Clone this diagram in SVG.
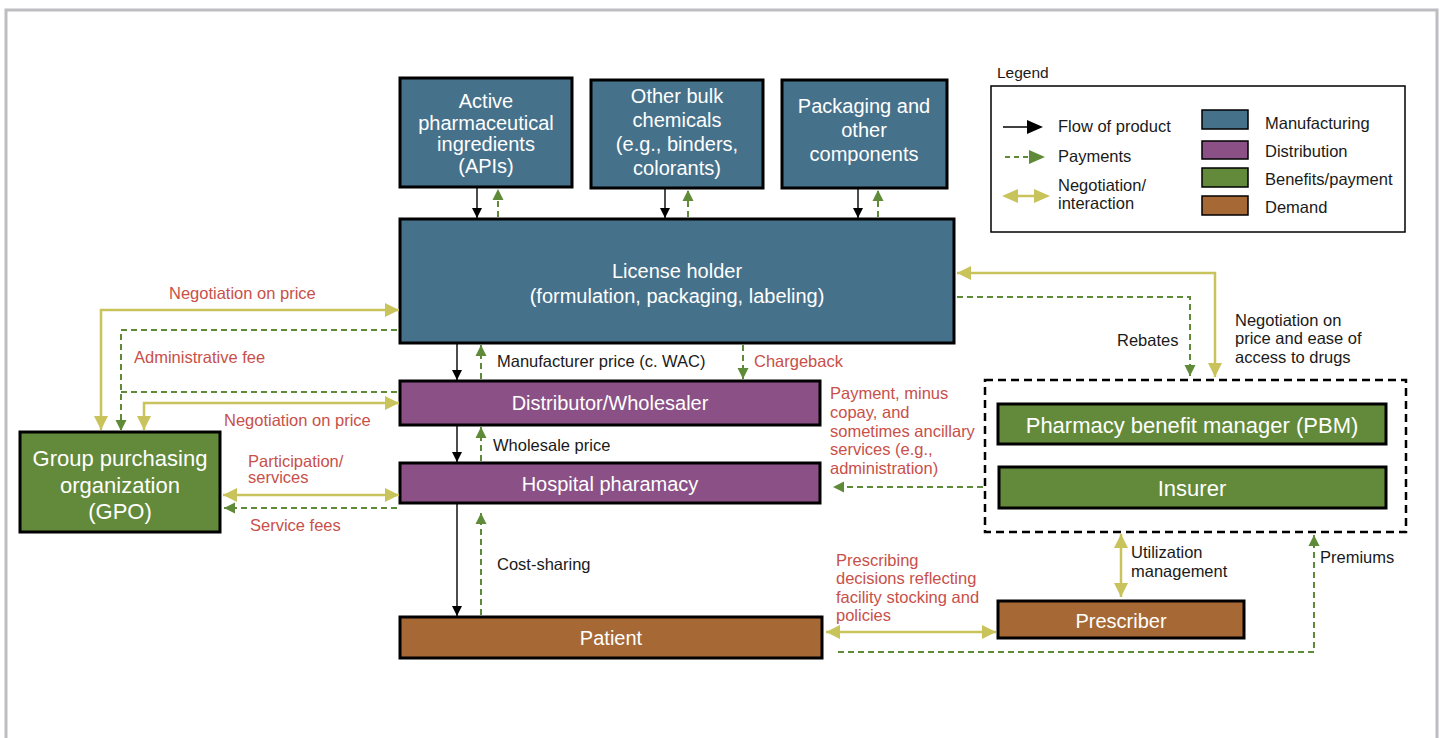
<svg xmlns="http://www.w3.org/2000/svg" width="1443" height="738" viewBox="0 0 1443 738">
<style>
text{font-family:"Liberation Sans",Arial,sans-serif}
.n{stroke:#000;stroke-width:3}
.mf{fill:#46718b}.ds{fill:#8b5186}.bp{fill:#628a3a}.dm{fill:#a66935}
.nt{fill:#fff;font-size:20px;text-anchor:middle}
.nl{fill:#fff;font-size:22px;text-anchor:middle}
.lb{font-size:16.5px;fill:#1a1a1a}
.rd{font-size:16.5px;fill:#c8504a}
.fp{stroke:#000;stroke-width:1.4;fill:none;marker-end:url(#ab)}
.pay{stroke:#5f8a38;stroke-width:2;stroke-dasharray:6 4;fill:none}
.pe{marker-end:url(#ag)}
.neg{stroke:#c9c35b;stroke-width:2.5;fill:none}
.n1{marker-end:url(#ao)}
.n2{marker-start:url(#ao);marker-end:url(#ao)}
</style>
<defs>
<marker id="ab" markerUnits="userSpaceOnUse" markerWidth="10" markerHeight="10" refX="10" refY="5" orient="auto"><path d="M0,0 L10,5 L0,10 z" fill="#000"/></marker>
<marker id="ag" markerUnits="userSpaceOnUse" markerWidth="11" markerHeight="12" refX="11" refY="6" orient="auto"><path d="M0,0.5 L11,6 L0,11.5 z" fill="#5f8a38"/></marker>
<marker id="ao" markerUnits="userSpaceOnUse" markerWidth="14" markerHeight="14" refX="14" refY="7" orient="auto-start-reverse"><path d="M0,0 L14,7 L0,14 z" fill="#c9c35b"/></marker>
</defs>
<rect x="6" y="10" width="1431" height="760" fill="#fff" stroke="#bdbdc1" stroke-width="3"/>

<g id="legend">
<text x="997" y="78" class="lb" style="font-size:15.5px">Legend</text>
<rect x="991" y="86" width="414" height="146" fill="#fff" stroke="#000" stroke-width="1.5"/>
<line x1="1003" y1="127" x2="1028" y2="127" stroke="#000" stroke-width="1.5"/>
<path d="M1027,120 L1043,127 L1027,134 z" fill="#000"/>
<text x="1058" y="132" class="lb">Flow of product</text>
<line x1="1005" y1="157" x2="1030" y2="157" stroke="#5f8a38" stroke-width="2" stroke-dasharray="5 4"/>
<path d="M1029,150 L1045,157 L1029,164 z" fill="#5f8a38"/>
<text x="1058" y="162" class="lb">Payments</text>
<line x1="1015" y1="196" x2="1038" y2="196" stroke="#c9c35b" stroke-width="2.5"/>
<path d="M1002,196 L1018,189 L1018,203 z M1050,196 L1034,189 L1034,203 z" fill="#c9c35b"/>
<text x="1058" y="191" class="lb">Negotiation/</text>
<text x="1058" y="209" class="lb">interaction</text>
<rect x="1202" y="110" width="46" height="19" class="mf" stroke="#000" stroke-width="1.5"/>
<rect x="1202" y="141" width="46" height="18" class="ds" stroke="#000" stroke-width="1.5"/>
<rect x="1202" y="168" width="46" height="19" class="bp" stroke="#000" stroke-width="1.5"/>
<rect x="1202" y="196" width="46" height="19" class="dm" stroke="#000" stroke-width="1.5"/>
<text x="1265" y="129" class="lb">Manufacturing</text>
<text x="1265" y="157" class="lb">Distribution</text>
<text x="1265" y="185" class="lb">Benefits/payment</text>
<text x="1265" y="213" class="lb">Demand</text>
</g>

<g id="api">
<rect x="400" y="78" width="172" height="109" class="n mf"/>
<text class="nt"><tspan x="486" y="108">Active</tspan><tspan x="486" y="130">pharmaceutical</tspan><tspan x="486" y="151">ingredients</tspan><tspan x="486" y="173">(APIs)</tspan></text>
</g>
<g id="bulk">
<rect x="591" y="80" width="172" height="108" class="n mf"/>
<text class="nt"><tspan x="677" y="103">Other bulk</tspan><tspan x="677" y="127">chemicals</tspan><tspan x="677" y="151">(e.g., binders,</tspan><tspan x="677" y="175">colorants)</tspan></text>
</g>
<g id="packaging">
<rect x="782" y="80" width="165" height="108" class="n mf"/>
<text class="nt"><tspan x="864" y="113">Packaging and</tspan><tspan x="864" y="137">other</tspan><tspan x="864" y="161">components</tspan></text>
</g>
<g id="license">
<rect x="400" y="219" width="554" height="124" class="n mf"/>
<text class="nt"><tspan x="677" y="278">License holder</tspan><tspan x="677" y="303">(formulation, packaging, labeling)</tspan></text>
</g>
<g id="distributor">
<rect x="400" y="381" width="420" height="44" class="n ds"/>
<text x="610" y="410" class="nt">Distributor/Wholesaler</text>
</g>
<g id="hospital">
<rect x="400" y="463" width="420" height="40" class="n ds"/>
<text x="610" y="491" class="nt">Hospital pharamacy</text>
</g>
<g id="patient">
<rect x="400" y="617" width="422" height="41" class="n dm"/>
<text x="611" y="645" class="nt">Patient</text>
</g>
<g id="gpo">
<rect x="20" y="432" width="200" height="100" class="n bp"/>
<text class="nl"><tspan x="120" y="466">Group purchasing</tspan><tspan x="120" y="493">organization</tspan><tspan x="120" y="519">(GPO)</tspan></text>
</g>
<g id="payers">
<rect x="985" y="380" width="421" height="152" fill="none" stroke="#000" stroke-width="2.5" stroke-dasharray="8 5"/>
</g>
<g id="pbm">
<rect x="998" y="404" width="388" height="40" class="n bp"/>
<text x="1192" y="433" class="nl">Pharmacy benefit manager (PBM)</text>
</g>
<g id="insurer">
<rect x="999" y="467" width="387" height="41" class="n bp"/>
<text x="1192" y="496" class="nl">Insurer</text>
</g>
<g id="prescriber">
<rect x="998" y="601" width="246" height="37" class="n dm"/>
<text x="1121" y="628" class="nt">Prescriber</text>
</g>

<g id="connectors">
<line x1="477" y1="188" x2="477" y2="218" class="fp"/>
<line x1="498" y1="217" x2="498" y2="189" class="pay pe"/>
<line x1="665" y1="189" x2="665" y2="218" class="fp"/>
<line x1="688" y1="217" x2="688" y2="190" class="pay pe"/>
<line x1="858" y1="189" x2="858" y2="218" class="fp"/>
<line x1="878" y1="217" x2="878" y2="190" class="pay pe"/>

<line x1="457" y1="344" x2="457" y2="380" class="fp"/>
<line x1="481" y1="379" x2="481" y2="345" class="pay pe"/>
<line x1="743" y1="345" x2="743" y2="379" class="pay pe"/>
<line x1="457" y1="426" x2="457" y2="462" class="fp"/>
<line x1="481" y1="461" x2="481" y2="427" class="pay pe"/>
<line x1="457" y1="504" x2="457" y2="616" class="fp"/>
<line x1="481" y1="615" x2="481" y2="513" class="pay pe"/>

<path d="M101,430 L101,310 L399,310" class="neg n2"/>
<path d="M397,330 L121,330 L121,431" class="pay pe"/>
<path d="M397,392 L121,392" class="pay"/>
<path d="M144,430 L144,403 L399,403" class="neg n2"/>
<path d="M223,495 L399,495" class="neg n2"/>
<path d="M397,508 L224,508" class="pay pe"/>

<path d="M1215,377 L1215,273 L957,273" class="neg n2"/>
<path d="M957,297 L1190,297 L1190,376" class="pay pe"/>
<path d="M983,487 L833,487" class="pay pe"/>
<path d="M1121,534 L1121,597" class="neg n2"/>
<path d="M838,652 L1314,652 L1314,535" class="pay pe"/>
<path d="M826,632 L996,632" class="neg n2"/>
</g>

<g id="labels">
<text x="169" y="299" class="rd">Negotiation on price</text>
<text x="134" y="363" class="rd">Administrative fee</text>
<text x="224" y="426" class="rd">Negotiation on price</text>
<text class="rd"><tspan x="248" y="467">Participation/</tspan><tspan x="248" y="483">services</tspan></text>
<text x="250" y="531" class="rd">Service fees</text>
<text x="497" y="367" class="lb">Manufacturer price (c. WAC)</text>
<text x="754" y="367" class="rd">Chargeback</text>
<text x="493" y="451" class="lb">Wholesale price</text>
<text x="497" y="570" class="lb">Cost-sharing</text>
<text class="rd"><tspan x="830" y="399">Payment, minus</tspan><tspan x="830" y="418">copay, and</tspan><tspan x="830" y="437">sometimes ancillary</tspan><tspan x="830" y="455">services (e.g.,</tspan><tspan x="830" y="474">administration)</tspan></text>
<text class="rd"><tspan x="836" y="566">Prescribing</tspan><tspan x="836" y="584">decisions reflecting</tspan><tspan x="836" y="603">facility stocking and</tspan><tspan x="836" y="621">policies</tspan></text>
<text x="1117" y="346" class="lb">Rebates</text>
<text class="lb"><tspan x="1235" y="326">Negotiation on</tspan><tspan x="1235" y="344">price and ease of</tspan><tspan x="1235" y="363">access to drugs</tspan></text>
<text class="lb"><tspan x="1131" y="558">Utilization</tspan><tspan x="1131" y="577">management</tspan></text>
<text x="1320" y="563" class="lb">Premiums</text>
</g>
</svg>
